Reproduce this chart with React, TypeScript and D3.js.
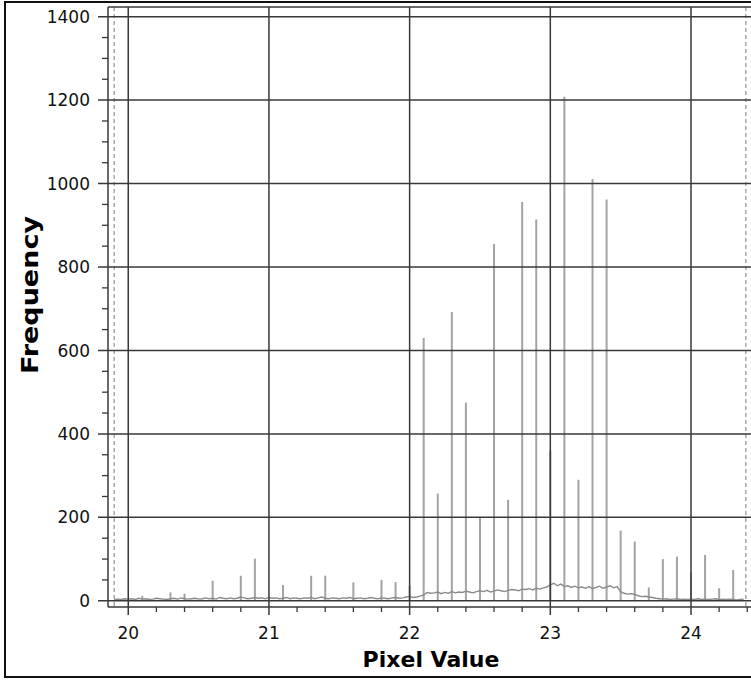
import React from 'react';
import * as d3 from 'd3';

// ---- data ----
const BASE_START = 19.9;
const BASE_STEP = 0.025;
// baseline frequency (noise floor), one value per 0.025
const baselineValues = [
  // 19.900 - 19.975
  3, 4, 3, 5,
  // 20.000 - 20.975
  4, 5, 3, 6, 4, 5, 3, 4, 6, 5, 4, 3, 5, 6, 4, 7, 5, 4, 5, 6,
  4, 5, 7, 5, 6, 4, 8, 6, 5, 7, 5, 6, 9, 7, 5, 6, 8, 6, 7, 5,
  // 21.000 - 21.975
  8, 6, 7, 5, 6, 8, 5, 7, 6, 5, 7, 6, 8, 5, 7, 9, 6, 5, 7, 6,
  5, 7, 6, 8, 5, 6, 7, 5, 6, 8, 6, 5, 7, 6, 5, 7, 8, 6, 7, 9,
  // 22.000 - 22.975
  10, 8, 9, 11, 14, 20, 18, 19, 21, 17, 20, 18, 22, 19, 21, 20, 23, 21, 19, 22,
  24, 22, 25, 21, 23, 26, 24, 22, 25, 27, 26, 24, 28, 27, 29, 26, 30, 28, 31, 33,
  // 23.000 - 23.975
  38, 42, 36, 40, 34, 36, 32, 35, 31, 33, 30, 34, 29, 32, 35, 30, 33, 36, 31, 34,
  22, 18, 16, 17, 15, 12, 10, 11, 9, 8, 6, 5, 4, 5, 3, 4, 5, 3, 4, 3,
  // 24.000 - 24.375
  4, 3, 5, 3, 4, 3, 4, 5, 3, 4, 3, 4, 3, 2, 3, 4,
];

const spikeValues = [
  20.1, 20.3, 20.4, 20.6, 20.8, 20.9, 21.1, 21.3, 21.4, 21.6, 21.8, 21.9,
  22.0, 22.1, 22.2, 22.3, 22.4, 22.5, 22.6, 22.7, 22.8, 22.9,
  23.0, 23.1, 23.2, 23.3, 23.4, 23.5, 23.6, 23.7, 23.8, 23.9,
  24.0, 24.1, 24.2, 24.3,
];
const spikeFrequency = [
  12, 20, 17, 48, 60, 101, 38, 60, 60, 44, 50, 45,
  36, 630, 257, 692, 475, 200, 855, 242, 956, 914,
  360, 1208, 290, 1011, 962, 168, 142, 32, 100, 106,
  68, 110, 30, 74,
];

const xTickValues = [20, 21, 22, 23, 24];
const yTickValues = [0, 200, 400, 600, 800, 1000, 1200, 1400];
const rangeMarkers = [19.9, 24.39];
const xAxisTitle = 'Pixel Value';
const yAxisTitle = 'Frequency';

// ---- layout ----
const W = 751;
const H = 680;
const PLOT_LEFT = 108;
const PLOT_RIGHT = 751;
const PLOT_TOP = 7;
const PLOT_BOTTOM = 607;
const X_DOMAIN: [number, number] = [19.856, 24.4265];
const Y_DOMAIN: [number, number] = [-14.9, 1423.2];

const FONT = '"DejaVu Sans", Verdana, sans-serif';
const GRID = '#383838';

export default function App() {
  const x = d3.scaleLinear().domain(X_DOMAIN).range([PLOT_LEFT, PLOT_RIGHT]);
  const y = d3.scaleLinear().domain(Y_DOMAIN).range([PLOT_BOTTOM, PLOT_TOP]);

  const basePts: [number, number][] = baselineValues.map((v, i) => [BASE_START + i * BASE_STEP, v]);
  const line = d3
    .line<[number, number]>()
    .x((d) => x(d[0]))
    .y((d) => y(d[1]));

  const xMinor = d3.range(20, 24.41, 0.2).filter((v) => Math.abs(v - Math.round(v)) > 1e-6);
  const yMinor = d3.range(0, 1401, 50).filter((v) => v % 200 !== 0);

  return (
    <svg
      width={W}
      height={H}
      style={{ position: 'absolute', left: 0, top: 0, background: '#fff' }}
      fontFamily={FONT}
    >
      <defs>
        <clipPath id="plotClip">
          <rect x={PLOT_LEFT} y={PLOT_TOP} width={PLOT_RIGHT - PLOT_LEFT} height={PLOT_BOTTOM - PLOT_TOP} />
        </clipPath>
      </defs>
      <rect x={0} y={0} width={W} height={H} fill="#fff" />
      {/* outer frame */}
      <rect x={5} y={2} width={W} height={675} fill="none" stroke="#111" strokeWidth={2} />

      {/* range markers */}
      {rangeMarkers.map((v) => (
        <line
          key={'rm' + v}
          x1={x(v)}
          x2={x(v)}
          y1={PLOT_TOP}
          y2={PLOT_BOTTOM}
          stroke="#9a9a9a"
          strokeWidth={1.3}
          strokeDasharray="4,3"
        />
      ))}

      {/* histogram */}
      <g clipPath="url(#plotClip)">
        {spikeValues.map((v, i) => (
          <line
            key={'sp' + i}
            x1={x(v)}
            x2={x(v)}
            y1={y(0)}
            y2={y(spikeFrequency[i])}
            stroke="#a3a3a3"
            strokeWidth={2}
          />
        ))}
        <path d={line(basePts) || ''} fill="none" stroke="#8a8a8a" strokeWidth={1.4} />
      </g>

      {/* grid */}
      {yTickValues.map((v) => (
        <line key={'gy' + v} x1={PLOT_LEFT - 10} x2={PLOT_RIGHT} y1={y(v)} y2={y(v)} stroke={GRID} strokeWidth={1.5} />
      ))}
      {xTickValues.map((v) => (
        <line key={'gx' + v} x1={x(v)} x2={x(v)} y1={PLOT_TOP} y2={PLOT_BOTTOM + 8} stroke={GRID} strokeWidth={1.5} />
      ))}

      {/* frame lines */}
      <line x1={PLOT_LEFT} x2={PLOT_RIGHT} y1={PLOT_TOP} y2={PLOT_TOP} stroke={GRID} strokeWidth={1.5} />
      <line x1={PLOT_LEFT} x2={PLOT_RIGHT} y1={PLOT_BOTTOM} y2={PLOT_BOTTOM} stroke={GRID} strokeWidth={1.5} />
      <line x1={PLOT_LEFT} x2={PLOT_LEFT} y1={PLOT_TOP} y2={PLOT_BOTTOM} stroke={GRID} strokeWidth={1.5} />

      {/* minor ticks */}
      {yMinor.map((v) => (
        <line key={'my' + v} x1={PLOT_LEFT - 6} x2={PLOT_LEFT} y1={y(v)} y2={y(v)} stroke={GRID} strokeWidth={1.3} />
      ))}
      {xMinor.map((v) => (
        <line key={'mx' + v} x1={x(v)} x2={x(v)} y1={PLOT_BOTTOM} y2={PLOT_BOTTOM + 5} stroke={GRID} strokeWidth={1.3} />
      ))}

      {/* tick labels */}
      {yTickValues.map((v) => (
        <text key={'ty' + v} x={90} y={y(v)} dy="0.36em" textAnchor="end" fontSize={17} fill="#111">
          {v}
        </text>
      ))}
      {xTickValues.map((v) => (
        <text key={'tx' + v} x={x(v)} y={639} textAnchor="middle" fontSize={17} fill="#111">
          {v}
        </text>
      ))}

      {/* titles */}
      <text x={431} y={667} textAnchor="middle" fontSize={22} fontWeight="bold" fill="#000">
        {xAxisTitle}
      </text>
      <text
        transform="translate(38,295) rotate(-90)"
        textAnchor="middle"
        fontSize={23}
        fontWeight="bold"
        fill="#000"
        textLength={158}
        lengthAdjust="spacingAndGlyphs"
      >
        {yAxisTitle}
      </text>
    </svg>
  );
}
